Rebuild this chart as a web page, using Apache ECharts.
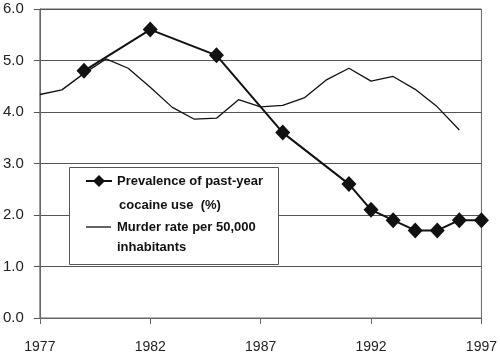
<!DOCTYPE html>
<html>
<head>
<meta charset="utf-8">
<script src="https://cdn.jsdelivr.net/npm/echarts@6/dist/echarts.min.js"></script>
<style>html,body{margin:0;padding:0;background:#fff}#c{width:500px;height:357px}</style>
</head>
<body>
<div id="c"></div>
<script>
const cocaineYears = [1979, 1982, 1985, 1988, 1991, 1992, 1993, 1994, 1995, 1996, 1997];
const cocaineValues = [4.8, 5.6, 5.1, 3.6, 2.6, 2.1, 1.9, 1.7, 1.7, 1.9, 1.9];
const murderYears = [1977, 1978, 1979, 1980, 1981, 1982, 1983, 1984, 1985, 1986, 1987, 1988, 1989, 1990, 1991, 1992, 1993, 1994, 1995, 1996];
const murderValues = [4.34, 4.43, 4.75, 5.03, 4.85, 4.48, 4.09, 3.86, 3.88, 4.24, 4.10, 4.13, 4.28, 4.63, 4.85, 4.60, 4.69, 4.44, 4.10, 3.65];
const legendLines = ['Prevalence of past-year', 'cocaine use  (%)', 'Murder rate per 50,000', 'inhabitants'];

const chart = echarts.init(document.getElementById('c'), null, {renderer: 'canvas'});
const font = 'Liberation Sans, Arial, sans-serif';
chart.setOption({
  animation: false,
  backgroundColor: '#fff',
  grid: {left: 38, right: 14, top: 9, bottom: 39, show: true, borderColor: '#666', borderWidth: 1, backgroundColor: 'transparent'},
  xAxis: {
    type: 'value', min: 1977, max: 1997, interval: 5,
    axisLine: {show: true, lineStyle: {color: '#666', width: 1}},
    axisTick: {show: true, inside: false, length: 6, lineStyle: {color: '#666'}},
    axisLabel: {fontFamily: font, fontSize: 14, color: '#222', margin: 22, formatter: v => String(v)},
    splitLine: {show: false}
  },
  yAxis: {
    type: 'value', min: 0, max: 6, interval: 1,
    axisLine: {show: true, lineStyle: {color: '#666', width: 1}},
    axisTick: {show: true, inside: false, length: 6, lineStyle: {color: '#555'}},
    axisLabel: {fontFamily: font, fontSize: 15, color: '#222', margin: 16, formatter: v => v.toFixed(1)},
    splitLine: {show: true, lineStyle: {color: '#555', width: 1}}
  },
  series: [
    {
      type: 'line', name: 'murder',
      data: murderYears.map((y, i) => [y, murderValues[i]]),
      showSymbol: false, symbol: 'none',
      lineStyle: {color: '#111', width: 1.3}, z: 3
    },
    {
      type: 'line', name: 'cocaine',
      data: cocaineYears.map((y, i) => [y, cocaineValues[i]]),
      symbol: 'diamond', symbolSize: [15, 16],
      itemStyle: {color: '#111', borderWidth: 0},
      lineStyle: {color: '#111', width: 2}, z: 4
    }
  ],
  graphic: [
    {type: 'rect', left: 69, top: 167, z: 10, shape: {width: 209, height: 97},
     style: {fill: '#fff', stroke: '#555', lineWidth: 1}},
    {type: 'line', z: 11, shape: {x1: 86, y1: 181, x2: 112, y2: 181}, style: {stroke: '#111', lineWidth: 2}},
    {type: 'polygon', z: 11, shape: {points: [[99, 175], [105, 181], [99, 187], [93, 181]]}, style: {fill: '#111'}},
    {type: 'line', z: 11, shape: {x1: 86, y1: 227, x2: 111, y2: 227}, style: {stroke: '#111', lineWidth: 1.3}},
    {type: 'text', z: 11, left: 117, top: 175, style: {text: legendLines[0], font: 'bold 13px ' + font, fill: '#111'}},
    {type: 'text', z: 11, left: 119, top: 199, style: {text: legendLines[1], font: 'bold 13px ' + font, fill: '#111'}},
    {type: 'text', z: 11, left: 117, top: 221, style: {text: legendLines[2], font: 'bold 13px ' + font, fill: '#111'}},
    {type: 'text', z: 11, left: 117, top: 241, style: {text: legendLines[3], font: 'bold 13px ' + font, fill: '#111'}}
  ]
});
</script>
</body>
</html>
